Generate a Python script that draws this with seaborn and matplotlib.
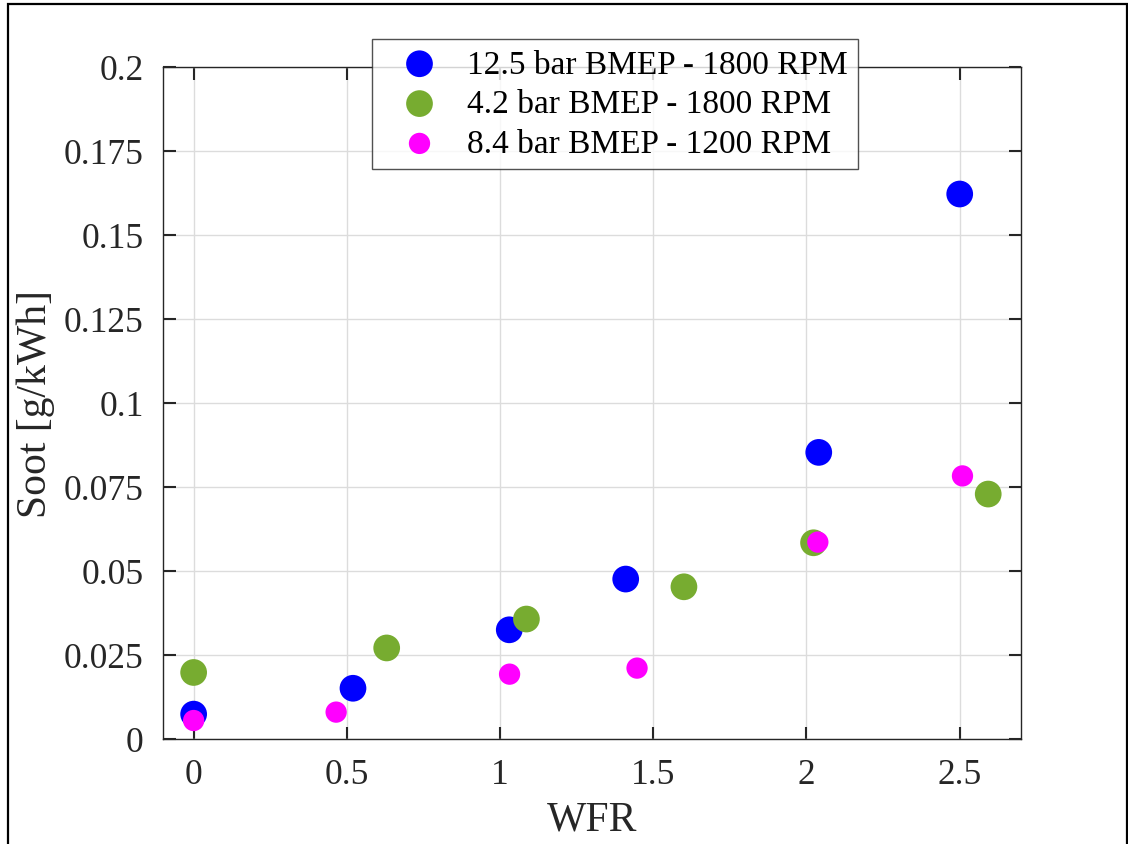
import matplotlib
matplotlib.use("Agg")
import matplotlib.pyplot as plt
import seaborn as sns
import pandas as pd
from matplotlib.patches import Rectangle

# ---- data ----
wfr_125 = [0.0, 0.52, 1.03, 1.41, 2.04, 2.50]
soot_125 = [0.0074, 0.0151, 0.0325, 0.0476, 0.0853, 0.1622]

wfr_42 = [0.0, 0.63, 1.086, 1.60, 2.023, 2.593]
soot_42 = [0.0198, 0.0271, 0.0357, 0.0453, 0.0584, 0.0729]

wfr_84 = [0.0, 0.465, 1.031, 1.447, 2.037, 2.509]
soot_84 = [0.0055, 0.0080, 0.0193, 0.0211, 0.0586, 0.0783]

labels = ["12.5 bar BMEP - 1800 RPM", "4.2 bar BMEP - 1800 RPM", "8.4 bar BMEP - 1200 RPM"]
colors = ["#0000FF", "#77AC30", "#FF00FF"]

xticks = [0, 0.5, 1, 1.5, 2, 2.5]
xticklabels = ["0", "0.5", "1", "1.5", "2", "2.5"]
yticks = [0, 0.025, 0.05, 0.075, 0.1, 0.125, 0.15, 0.175, 0.2]
yticklabels = ["0", "0.025", "0.05", "0.075", "0.1", "0.125", "0.15", "0.175", "0.2"]

sns.set_theme(style="white")
plt.rcParams["font.family"] = ["Liberation Serif", "DejaVu Serif"]

fig = plt.figure(figsize=(11.28, 8.45), dpi=100)
ax = fig.add_axes([163 / 1128, 1 - 740 / 845, (1021 - 163) / 1128, (740 - 68) / 845])

series = [(wfr_125, soot_125, 370), (wfr_42, soot_42, 370), (wfr_84, soot_84, 235)]
for (xs, ys, s), lab, col in zip(series, labels, colors):
    df = pd.DataFrame({"WFR": xs, "Soot": ys})
    sns.scatterplot(data=df, x="WFR", y="Soot", ax=ax, color=col, s=s,
                    edgecolor="none", linewidth=0, label=lab, zorder=3)

ax.set_xlim(-0.1, 2.7)
ax.set_ylim(0, 0.2)
ax.set_xticks(xticks)
ax.set_xticklabels(xticklabels)
ax.set_yticks(yticks)
ax.set_yticklabels(yticklabels)

ax.grid(True, color="#dcdcdc", linewidth=1.0)
ax.set_axisbelow(True)
for sp in ax.spines.values():
    sp.set_visible(True)
    sp.set_color("#262626")
    sp.set_linewidth(1.0)

ax.tick_params(axis="both", direction="in", length=9, width=1.5, color="#262626",
               labelsize=25.5, labelcolor="#262626", top=True, right=True,
               bottom=True, left=True, pad=14)

ax.set_xlabel("WFR", fontsize=30, color="#262626", labelpad=6)
ax.set_ylabel("Soot [g/kWh]", fontsize=30, color="#262626", labelpad=6)

leg = ax.legend(loc="upper left", bbox_to_anchor=(372 / 1128, 1 - 40 / 845),
                bbox_transform=fig.transFigure, fontsize=24, frameon=True,
                fancybox=False, borderaxespad=0, handletextpad=0.3,
                labelspacing=0.28, borderpad=0.3, handlelength=2.25,
                markerscale=1.0)
leg.get_frame().set_edgecolor("#262626")
leg.get_frame().set_linewidth(1.0)
for t in leg.get_texts():
    t.set_color("#000000")

# outer frame of the figure
fig.patches.append(Rectangle((8 / 1128, -0.05), (1127 - 8) / 1128, 1 - 5 / 845 + 0.05,
                             transform=fig.transFigure, fill=False,
                             edgecolor="black", linewidth=1.6))

fig.savefig("out.png", dpi=100)
